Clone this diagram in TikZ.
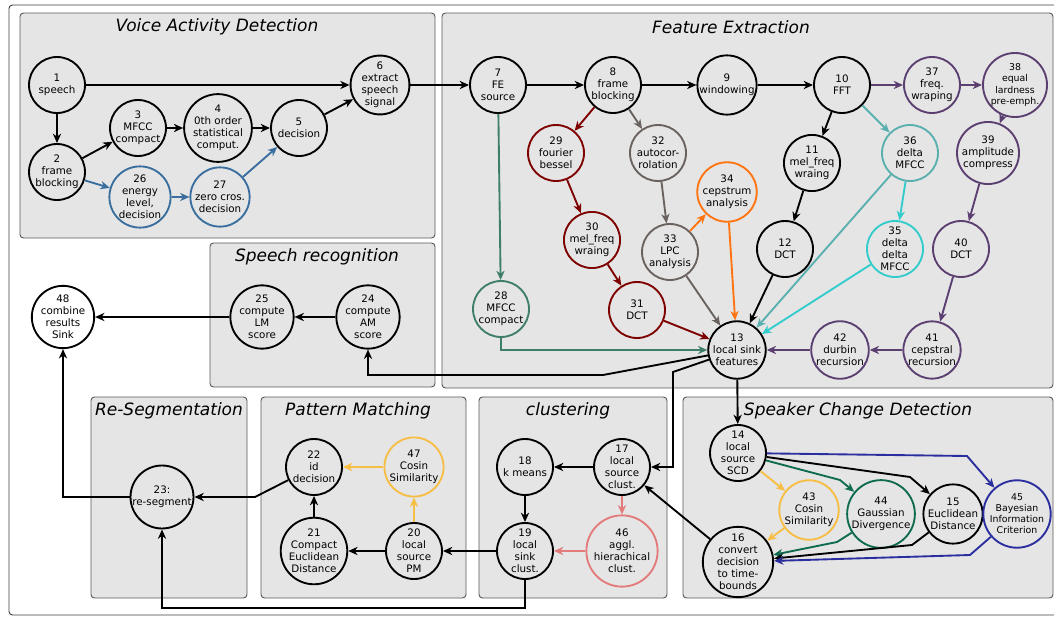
\documentclass[tikz,border=0pt]{standalone}
\usepackage{fontspec}
\setmainfont{DejaVu Sans}
\usepackage{xcolor}
\usepackage{tikz}
\usetikzlibrary{arrows.meta}

\definecolor{vadblue}{HTML}{3A6E9E}
\definecolor{fered}{HTML}{7F0000}
\definecolor{fegray}{HTML}{6A625E}
\definecolor{feorange}{HTML}{FF7410}
\definecolor{feteal}{HTML}{5AAFAF}
\definecolor{fecyan}{HTML}{33CCCC}
\definecolor{fepurple}{HTML}{5B3F70}
\definecolor{fegreen}{HTML}{3F7F6A}
\definecolor{pmyellow}{HTML}{F7BE45}
\definecolor{clpink}{HTML}{E37B7B}
\definecolor{scdgreen}{HTML}{0E6B50}
\definecolor{scdblue}{HTML}{2A2E9E}

\newcommand{\nodefont}{\fontsize{8.8}{10.3}\selectfont}
\newcommand{\smallnodefont}{\fontsize{8}{9.4}\selectfont}
\newcommand{\titlefont}{\fontsize{14.5}{17}\selectfont\itshape}

\begin{document}
\begin{tikzpicture}[x=0.03cm,y=-0.03cm,
	>={Stealth[length=8pt,width=7pt,inset=2.5pt]},
	stage/.style={circle,draw,line width=1.6pt,minimum size=1.68cm,inner sep=0pt,align=center,font=\nodefont},
	blockbox/.style={draw=black!65,fill=black!10,rounded corners=3pt,line width=0.8pt},
	grouptitle/.style={font=\titlefont},
	flow/.style={->,line width=1.6pt}]
\useasboundingbox (0,0) rectangle (1054,617);
\draw[rounded corners=3pt,draw=black!75,line width=0.8pt] (9,5) rectangle (1064,615);
%
\draw[blockbox] (20,13) rectangle (435,238);
\draw[blockbox] (442,13) rectangle (1053,388);
\draw[blockbox] (210,243) rectangle (435,387);
\draw[blockbox] (91,397) rectangle (247,598);
\draw[blockbox] (261,397) rectangle (466,598);
\draw[blockbox] (479,397) rectangle (667,598);
\draw[blockbox] (683,397) rectangle (1053,598);
%
\node[grouptitle] (tvad) at (217,27) {Voice Activity Detection};
\node[grouptitle] (tfe) at (731,27) {Feature Extraction};
\node[grouptitle] (tsr) at (317,257) {Speech recognition};
\node[grouptitle] (tres) at (169,411) {Re-Segmentation};
\node[grouptitle] (tpm) at (358,411) {Pattern Matching};
\node[grouptitle] (tcl) at (568,411) {clustering};
\node[grouptitle] (tscd) at (858,411) {Speaker Change Detection};
%
% voice activity detection
\node[stage] (n1) at (57,85) {1\\speech};
\node[stage] (n2) at (57,172) {2\\frame\\blocking};
\node[stage] (n3) at (138,128) {3\\MFCC\\compact};
\node[stage] (n4) at (218,128) {4\\0th order\\statistical\\comput.};
\node[stage] (n5) at (299,128) {5\\decision};
\node[stage] (n6) at (380,85) {6\\extract\\speech\\signal};
\node[stage,vadblue] (n26) at (140,197) {\color{black}26\\\color{black}energy\\\color{black}level,\\\color{black}decision};
\node[stage,vadblue] (n27) at (220,197) {\color{black}27\\\color{black}zero cros.\\\color{black}decision};
%
% feature extraction
\node[stage] (n7) at (498,85) {7\\FE\\source};
\node[stage] (n8) at (613,85) {8\\frame\\blocking};
\node[stage] (n9) at (727,85) {9\\windowing};
\node[stage] (n10) at (842,85) {10\\FFT};
\node[stage] (n11) at (812,163) {11\\mel\_freq\\wraing};
\node[stage] (n12) at (785,249) {12\\DCT};
\node[stage] (n13) at (737,350) {13\\local sink\\features};
\node[stage,fegreen] (n28) at (501,309) {\color{black}28\\\color{black}MFCC\\\color{black}compact};
\node[stage,fered] (n29) at (556,153) {\color{black}29\\\color{black}fourier\\\color{black}bessel};
\node[stage,fered] (n30) at (592,240) {\color{black}30\\\color{black}mel\_freq\\\color{black}wraing};
\node[stage,fered] (n31) at (637,310) {\color{black}31\\\color{black}DCT};
\node[stage,fegray] (n32) at (658,153) {\color{black}32\\\color{black}autocor-\\\color{black}rolation};
\node[stage,fegray] (n33) at (670,252) {\color{black}33\\\color{black}LPC\\\color{black}analysis};
\node[stage,feorange] (n34) at (727,192) {\color{black}34\\\color{black}cepstrum\\\color{black}analysis};
\node[stage,fecyan] (n35) at (895,249) {\color{black}35\\\color{black}delta\\\color{black}delta\\\color{black}MFCC};
\node[stage,feteal] (n36) at (910,153) {\color{black}36\\\color{black}delta\\\color{black}MFCC};
\node[stage,fepurple] (n37) at (932,85) {\color{black}37\\\color{black}freq.\\\color{black}wraping};
\node[stage,fepurple,font=\smallnodefont] (n38) at (1015,85) {\color{black}38\\\color{black}equal\\\color{black}lardness\\\color{black}pre-emph.};
\node[stage,fepurple] (n39) at (988,153) {\color{black}39\\\color{black}amplitude\\\color{black}compress};
\node[stage,fepurple] (n40) at (961,249) {\color{black}40\\\color{black}DCT};
\node[stage,fepurple] (n41) at (932,350) {\color{black}41\\\color{black}cepstral\\\color{black}recursion};
\node[stage,fepurple] (n42) at (840,350) {\color{black}42\\\color{black}durbin\\\color{black}recursion};
%
% speech recognition
\node[stage] (n24) at (368,317) {24\\compute\\AM\\score};
\node[stage] (n25) at (262,317) {25\\compute\\LM\\score};
\node[stage,fill=white] (n48) at (63,317) {48\\combine\\results\\Sink};
%
% re-segmentation, pattern matching, clustering
\node[stage] (n23) at (162,497) {23:\\re-segment};
\node[stage] (n22) at (314,467) {22\\id\\decision};
\node[stage,pmyellow] (n47) at (414,467) {\color{black}47\\\color{black}Cosin\\\color{black}Similarity};
\node[stage] (n21) at (314,551) {21\\Compact\\Euclidean\\Distance};
\node[stage] (n20) at (414,551) {20\\local\\source\\PM};
\node[stage] (n18) at (525,467) {18\\k means};
\node[stage] (n17) at (622,467) {17\\local\\source\\clust.};
\node[stage] (n19) at (525,551) {19\\local\\sink\\clust.};
\node[stage,clpink] (n46) at (622,551) {\color{black}46\\\color{black}aggl.\\\color{black}hierachical\\\color{black}clust.};
%
% speaker change detection
\node[stage] (n14) at (738,453) {14\\local\\source\\SCD};
\node[stage,pmyellow] (n43) at (809,510) {\color{black}43\\\color{black}Cosin\\\color{black}Similarity};
\node[stage,scdgreen] (n44) at (881,514) {\color{black}44\\\color{black}Gaussian\\\color{black}Divergence};
\node[stage] (n15) at (953,514) {15\\Euclidean\\Distance};
\node[stage,scdblue,font=\smallnodefont] (n45) at (1017,514) {\color{black}45\\\color{black}Bayesian\\\color{black}Information\\\color{black}Criterion};
\node[stage] (n16) at (738,562) {16\\convert\\decision\\to time-\\bounds};
%
\draw[flow] (n1) -- (n2);
\draw[flow] (n1) -- (n6);
\draw[flow] (n2) -- (n3);
\draw[flow] (n3) -- (n4);
\draw[flow] (n4) -- (n5);
\draw[flow] (n5) -- (n6);
\draw[flow,vadblue] (n2) -- (n26);
\draw[flow,vadblue] (n26) -- (n27);
\draw[flow,vadblue] (n27) -- (n5);
\draw[flow] (n6) -- (n7);
%
\draw[flow] (n7) -- (n8);
\draw[flow] (n8) -- (n9);
\draw[flow] (n9) -- (n10);
\draw[flow] (n10) -- (n11);
\draw[flow] (n11) -- (n12);
\draw[flow] (n12) -- (n13);
\draw[flow,fegreen] (n7) -- (n28);
\draw[flow,fegreen] (n28) |- (n13);
\draw[flow,fered] (n8) -- (n29);
\draw[flow,fered] (n29) -- (n30);
\draw[flow,fered] (n30) -- (n31);
\draw[flow,fered] (n31) -- (n13);
\draw[flow,fegray] (n8) -- (n32);
\draw[flow,fegray] (n32) -- (n33);
\draw[flow,fegray] (n33) -- (n13);
\draw[flow,feorange] (n33) -- (n34);
\draw[flow,feorange] (n34) -- (n13);
\draw[flow,feteal] (n10) -- (n36);
\draw[flow,feteal] (n36) -- (n13);
\draw[flow,fecyan] (n36) -- (n35);
\draw[flow,fecyan] (n35) -- (n13);
\draw[flow,fepurple] (n10) -- (n37);
\draw[flow,fepurple] (n37) -- (n38);
\draw[flow,fepurple] (n38) -- (n39);
\draw[flow,fepurple] (n39) -- (n40);
\draw[flow,fepurple] (n40) -- (n41);
\draw[flow,fepurple] (n41) -- (n42);
\draw[flow,fepurple] (n42) -- (n13);
%
\draw[flow] (n13) -- (603,375) -| (n24);
\draw[flow] (n24) -- (n25);
\draw[flow] (n25) -- (n48);
\draw[flow] (n13) -- (n14);
\draw[flow] (n13) -- (673,372) |- (n17);
%
\draw[flow,scdblue] (n14) -- (967,456) -- (n45);
\draw[flow] (n14) -- (910,477) -- (n15);
\draw[flow,scdgreen] (n14) -- (840,480) -- (n44);
\draw[flow,pmyellow] (n14) -- (n43);
\draw[flow,pmyellow] (n43) -- (n16);
\draw[flow,scdgreen] (n44) -- (837,542) -- (n16);
\draw[flow] (n15) -- (912,545) -- (n16);
\draw[flow,scdblue] (n45) -- (970,555) -- (n16);
\draw[flow] (n16) -- (n17);
%
\draw[flow] (n17) -- (n18);
\draw[flow] (n18) -- (n19);
\draw[flow,clpink] (n17) -- (n46);
\draw[flow,clpink] (n46) -- (n19);
\draw[flow] (n19) -- (n20);
\draw[flow] (n19) -- (525,608) -| (n23);
%
\draw[flow] (n20) -- (n21);
\draw[flow] (n21) -- (n22);
\draw[flow,pmyellow] (n20) -- (n47);
\draw[flow,pmyellow] (n47) -- (n22);
\draw[flow] (n22) -- (255,497) -- (n23);
\draw[flow] (n23) -| (n48);
\end{tikzpicture}
\end{document}
